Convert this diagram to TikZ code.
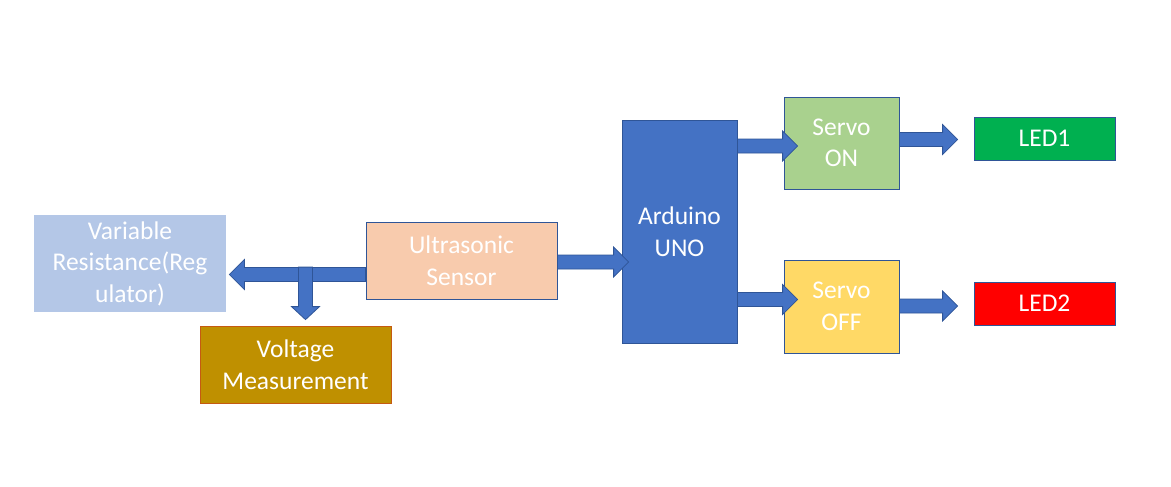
\documentclass[tikz,border=0pt]{standalone}
\usepackage{fontspec}
\setmainfont{Carlito}
\usetikzlibrary{calc}
\definecolor{bluefill}{HTML}{4472C4}
\definecolor{blueline}{HTML}{2F5597}
\definecolor{varfill}{HTML}{B4C7E7}
\definecolor{usfill}{HTML}{F8CBAD}
\definecolor{voltfill}{HTML}{BF9000}
\definecolor{voltline}{HTML}{C55A11}
\definecolor{sonfill}{HTML}{A9D18E}
\definecolor{sofffill}{HTML}{FFD966}
\definecolor{led1fill}{HTML}{00B050}
\definecolor{led2fill}{HTML}{FF0000}
\newcommand{\harrow}[2]{%
  \path[barrow] let \p1=(#1), \p2=(#2) in
    (\x1,\y1+7pt) -- (\x2-15pt,\y1+7pt) -- (\x2-15pt,\y1+15pt) -- (\x2,\y1)
    -- (\x2-15pt,\y1-15pt) -- (\x2-15pt,\y1-7pt) -- (\x1,\y1-7pt) -- cycle;}
\newcommand{\larrow}[2]{%
  \path[barrow] let \p1=(#1), \p2=(#2) in
    (\x1,\y1+7pt) -- (\x2+15pt,\y1+7pt) -- (\x2+15pt,\y1+15pt) -- (\x2,\y1)
    -- (\x2+15pt,\y1-15pt) -- (\x2+15pt,\y1-7pt) -- (\x1,\y1-7pt) -- cycle;}
\newcommand{\darrow}[2]{%
  \path[barrow] let \p1=(#1), \p2=(#2) in
    (\x1-7pt,\y1) -- (\x1-7pt,\y2+13pt) -- (\x1-14pt,\y2+13pt) -- (\x1,\y2)
    -- (\x1+14pt,\y2+13pt) -- (\x1+7pt,\y2+13pt) -- (\x1+7pt,\y1) -- cycle;}
\tikzset{
  blk/.style={rectangle, inner sep=0pt, line width=0.8pt, draw=blueline,
    text=white, align=center, font=\fontsize{25.5}{31.5}\selectfont},
  barrow/.style={fill=bluefill, draw=blueline, line width=0.8pt, line join=miter}
}
\begin{document}
\begin{tikzpicture}[x=1pt,y=-1pt]
\useasboundingbox[fill=white] (0,0) rectangle (1171,487);
\node[blk, draw=none, fill=varfill, minimum width=192pt, minimum height=97pt] (var) at (130,263.5) {Variable\\Resistance(Reg\\ulator)};
\node[blk, fill=usfill, minimum width=191pt, minimum height=77pt] (us) at (461.5,260.5) {Ultrasonic\\Sensor};
\node[blk, draw=voltline, fill=voltfill, minimum width=191pt, minimum height=77pt] (volt) at (295.5,364.5) {Voltage\\Measurement};
\node[blk, fill=bluefill, minimum width=115pt, minimum height=223pt] (ard) at (679.5,231.5) {Arduino\\UNO};
\node[blk, fill=sonfill, minimum width=115pt, minimum height=92pt] (son) at (841.5,143) {Servo\\ON};
\node[blk, fill=sofffill, minimum width=115pt, minimum height=93pt] (soff) at (841.5,306.5) {Servo\\OFF};
\node[blk, fill=led1fill, minimum width=141pt, minimum height=43pt] (led1) at (1044.5,138.5) {LED1};
\node[blk, fill=led2fill, minimum width=141pt, minimum height=43pt] (led2) at (1044.5,303.5) {LED2};
% left branch
\coordinate (tl) at ($(us.west)+(0,14)$);
\coordinate (tlend) at ($(var.east |- tl)+(3,0)$);
\larrow{tl}{tlend}
\coordinate (dstart) at ($(volt.north)+(10,-58.5)$);
\coordinate (dend) at ($(volt.north)+(10,-6)$);
\darrow{dstart}{dend}
% right arrows
\coordinate (a1s) at ($(us.east)+(0,1.5)$);
\coordinate (a1e) at ($(ard.west)+(7,0)$);
\harrow{a1s}{a1e}
\coordinate (a2s) at ($(ard.east |- son.west)+(0,3)$);
\coordinate (a2e) at ($(son.west)+(14,0)$);
\harrow{a2s}{a2e}
\coordinate (a3s) at ($(ard.east |- soff.west)+(0,-7)$);
\coordinate (a3e) at ($(soff.west)+(14,0)$);
\harrow{a3s}{a3e}
\coordinate (a4s) at ($(son.east |- led1.west)+(0,1)$);
\coordinate (a4e) at ($(led1.west)+(-16,0)$);
\harrow{a4s}{a4e}
\coordinate (a5s) at ($(soff.east |- led2.west)+(0,2.5)$);
\coordinate (a5e) at ($(led2.west)+(-16,0)$);
\harrow{a5s}{a5e}
\end{tikzpicture}
\end{document}
